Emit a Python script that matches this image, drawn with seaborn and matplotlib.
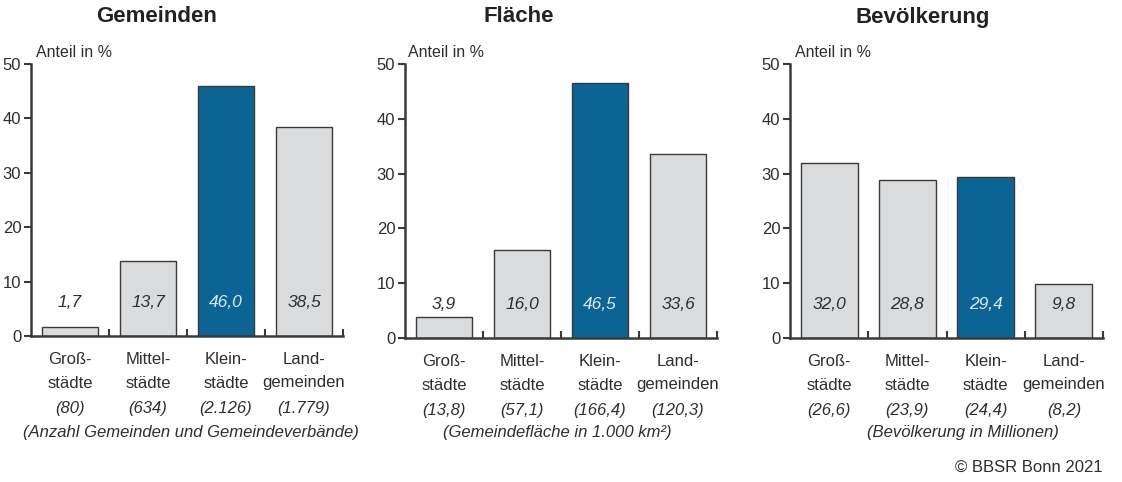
import matplotlib
matplotlib.use("Agg")
import matplotlib.pyplot as plt
import seaborn as sns
import pandas as pd

sns.set_theme(style="white")
plt.rcParams['font.family'] = ['Liberation Sans', 'DejaVu Sans']

categories = ["Großstädte", "Mittelstädte", "Kleinstädte", "Landgemeinden"]
cat_line1 = ["Groß-", "Mittel-", "Klein-", "Land-"]
cat_line2 = ["städte", "städte", "städte", "gemeinden"]

titles = ["Gemeinden", "Fläche", "Bevölkerung"]
subtitles = ["(Anzahl Gemeinden und Gemeindeverbände)",
             "(Gemeindefläche in 1.000 km²)",
             "(Bevölkerung in Millionen)"]

gemeinden_pct = [1.7, 13.7, 46.0, 38.5]
flaeche_pct = [3.9, 16.0, 46.5, 33.6]
bevoelkerung_pct = [32.0, 28.8, 29.4, 9.8]

gemeinden_abs = ["(80)", "(634)", "(2.126)", "(1.779)"]
flaeche_abs = ["(13,8)", "(57,1)", "(166,4)", "(120,3)"]
bevoelkerung_abs = ["(26,6)", "(23,9)", "(24,4)", "(8,2)"]

yticks = [0, 10, 20, 30, 40, 50]

series = [gemeinden_pct, flaeche_pct, bevoelkerung_pct]
abs_labels = [gemeinden_abs, flaeche_abs, bevoelkerung_abs]

GRAY = "#dadbdd"
BLUE = "#0b6493"
EDGE = "#3a3a3a"
TXT = "#2e2e2e"
palette = {c: (BLUE if c == "Kleinstädte" else GRAY) for c in categories}

W, H = 1122, 482
fig = plt.figure(figsize=(W / 100, H / 100), dpi=100)
fig.patch.set_facecolor("white")

# axes positions in pixels: left, right, top(y of 50), bottom(y of 0)
pos_px = [(31, 343, 64, 336), (405, 717, 64, 338), (790, 1103, 64, 338)]
title_x = [157, 519, 923]
sub_x = [191, 557, 963]
anteil_x = [36, 408, 795]

FS = 12

for k in range(3):
    l, r, t, b = pos_px[k]
    ax = fig.add_axes([l / W, 1 - b / H, (r - l) / W, (b - t) / H])
    df = pd.DataFrame({"cat": categories, "val": series[k]})
    sns.barplot(data=df, x="cat", y="val", hue="cat", palette=palette,
                legend=False, width=0.73, edgecolor=EDGE, linewidth=1.0,
                saturation=1, ax=ax)
    ax.set_xlim(-0.5, 3.5)
    ax.set_ylim(0, 50)
    ax.set_yticks(yticks)
    ax.set_yticklabels([str(v) for v in yticks], fontsize=FS, color=TXT)
    ax.set_xlabel("")
    ax.set_ylabel("")
    ax.set_xticks(range(4))
    ax.set_xticklabels([])
    ax.set_xticks([0.5, 1.5, 2.5, 3.5], minor=True)
    ax.tick_params(axis="x", which="major", length=0)
    ax.tick_params(axis="x", which="minor", direction="in", length=5,
                   width=1.5, color=EDGE, bottom=True)
    ax.tick_params(axis="y", which="major", direction="out", length=5,
                   width=1.5, color=EDGE, left=True, pad=2)
    for s in ["top", "right"]:
        ax.spines[s].set_visible(False)
    for s in ["left", "bottom"]:
        ax.spines[s].set_color(EDGE)
        ax.spines[s].set_linewidth(1.8)
    ax.set_facecolor("none")

    for i, v in enumerate(series[k]):
        col = "#dce9f3" if categories[i] == "Kleinstädte" else TXT
        ax.text(i, 6.1, f"{v:.1f}".replace(".", ","), ha="center", va="center",
                fontsize=12.5, style="italic", color=col)
        for off, txt, st in [(23, cat_line1[i], "normal"),
                             (47, cat_line2[i], "normal"),
                             (72, abs_labels[k][i], "italic")]:
            ax.annotate(txt, xy=(i, 0), xycoords=("data", "axes fraction"),
                        xytext=(0, -off), textcoords="offset pixels",
                        ha="center", va="center", fontsize=FS,
                        style=st, color=TXT, annotation_clip=False)

    fig.text(title_x[k] / W, 1 - 17 / H, titles[k], ha="center", va="center",
             fontsize=16, fontweight="bold", color="#222222")
    fig.text(anteil_x[k] / W, 1 - 52 / H, "Anteil in %", ha="left", va="center",
             fontsize=11.5, color=TXT)
    fig.text(sub_x[k] / W, 1 - 432 / H, subtitles[k], ha="center", va="center",
             fontsize=FS, style="italic", color=TXT)

fig.text(1103 / W, 1 - 467 / H, "© BBSR Bonn 2021", ha="right", va="center",
         fontsize=FS, color=TXT)

fig.savefig("out.png", dpi=100, facecolor="white")
